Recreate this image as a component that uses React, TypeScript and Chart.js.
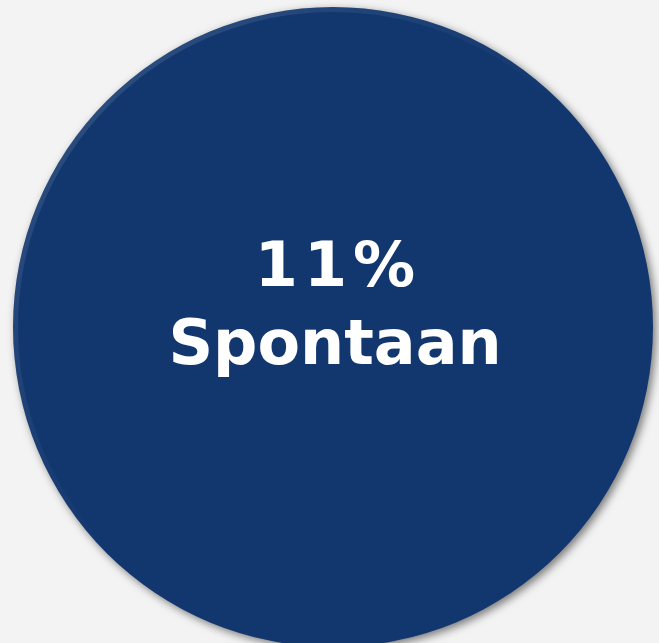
import React, { useEffect, useRef } from "react";
import { Chart, registerables } from "chart.js";

Chart.register(...registerables);

const categories = ["Spontaan"];
const values = [11];
const percentLabels = ["11%"];

const FILL = "#12376F";
const BG = "#F3F3F3";

export default function App() {
  const ref = useRef<HTMLCanvasElement | null>(null);

  useEffect(() => {
    document.body.style.margin = "0";
    document.body.style.background = BG;
    const canvas = ref.current;
    if (!canvas) return;

    const shadowPlugin = {
      id: "circleShadow",
      beforeDatasetsDraw(chart: any) {
        const ctx = chart.ctx;
        ctx.save();
        ctx.shadowColor = "rgba(0,0,0,0.5)";
        ctx.shadowBlur = 8;
        ctx.shadowOffsetX = 3;
        ctx.shadowOffsetY = 3;
      },
      afterDatasetsDraw(chart: any) {
        chart.ctx.restore();
        // subtle highlight on top-left rim
        const arc = chart.getDatasetMeta(0).data[0];
        if (!arc) return;
        const ctx = chart.ctx;
        const r = arc.outerRadius;
        ctx.save();
        const g = ctx.createLinearGradient(arc.x - r, arc.y - r, arc.x, arc.y);
        g.addColorStop(0, "rgba(255,255,255,0.14)");
        g.addColorStop(1, "rgba(255,255,255,0)");
        ctx.strokeStyle = g;
        ctx.lineWidth = 5;
        ctx.beginPath();
        ctx.arc(arc.x, arc.y, r - 2.5, 0, Math.PI * 2);
        ctx.stroke();
        ctx.restore();
      },
    };

    const textPlugin = {
      id: "centerText",
      afterDraw(chart: any) {
        const ctx = chart.ctx;
        const arc = chart.getDatasetMeta(0).data[0];
        if (!arc) return;
        const cx = arc.x + 2;
        const cy = arc.y;
        ctx.save();
        ctx.fillStyle = "#FFFFFF";
        ctx.textAlign = "center";
        ctx.textBaseline = "alphabetic";
        ctx.font = "bold 62px 'DejaVu Sans', Verdana, sans-serif";
        (ctx as any).letterSpacing = "6px";
        ctx.fillText(percentLabels[0], cx + 3, cy - 41);
        (ctx as any).letterSpacing = "0px";
        ctx.fillText(categories[0], cx, cy + 37);
        ctx.restore();
      },
    };

    const chart = new Chart(canvas, {
      type: "pie",
      data: {
        labels: categories,
        datasets: [
          {
            data: values,
            backgroundColor: [FILL],
            borderWidth: 0,
            radius: 320,
          } as any,
        ],
      },
      options: {
        animation: false,
        responsive: false,
        maintainAspectRatio: false,
        layout: { padding: { left: 14, right: 7, top: 11, bottom: 0 } },
        plugins: {
          legend: { display: false },
          tooltip: { enabled: false },
        },
        events: [],
      },
      plugins: [shadowPlugin, textPlugin],
    });

    return () => chart.destroy();
  }, []);

  return (
    <div style={{ position: "fixed", left: 0, top: 0, width: 659, height: 643, background: BG }}>
      <canvas ref={ref} width={659} height={643} style={{ display: "block" }} />
    </div>
  );
}
